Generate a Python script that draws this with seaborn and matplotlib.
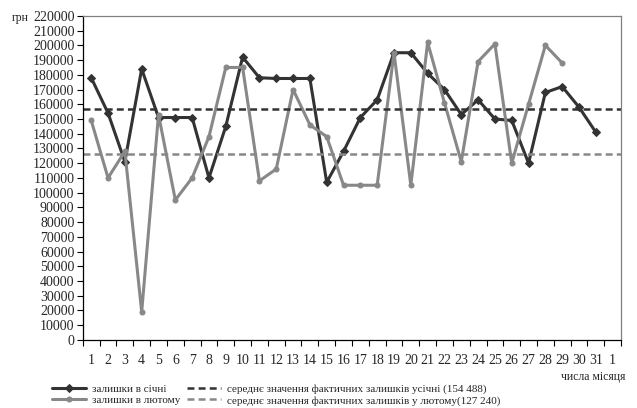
import numpy as np
import pandas as pd
import matplotlib
matplotlib.use("Agg")
import matplotlib.pyplot as plt
import seaborn as sns

# day labels on the x axis (last "1" is the first day of the next month)
day_labels = [str(d) for d in range(1, 32)] + ["1"]

# balances in January (31 days)
jan_values = [178000, 154000, 121000, 184000, 151000, 151000, 151000, 110000,
              145000, 192000, 178000, 177500, 177500, 177500, 107000, 128000,
              151000, 163000, 195000, 195000, 181000, 170000, 153000, 163000,
              150000, 149000, 120000, 168000, 172000, 158000, 141000]

# balances in February (29 days)
feb_values = [149000, 110000, 128000, 19000, 153000, 95000, 110000, 138000,
              185000, 185000, 108000, 116000, 170000, 146000, 138000, 105000,
              105000, 105000, 195000, 105000, 202000, 161000, 121000, 189000,
              201000, 120000, 160000, 200000, 188000]

# average levels as drawn on the chart
jan_mean = 156500
feb_mean = 126500

series_labels = ["залишки в січні", "залишки в лютому",
                 "середнє значення фактичних залишків усічні (154 488)",
                 "середнє значення фактичних залишків у лютому(127 240)"]

dark = "#333333"
grey = "#888888"

sns.set_style("white")
plt.rcParams["font.family"] = ["Liberation Serif", "DejaVu Serif"]
plt.rcParams["lines.scale_dashes"] = False

jan_df = pd.DataFrame({"day": np.arange(len(jan_values)), "value": jan_values})
feb_df = pd.DataFrame({"day": np.arange(len(feb_values)), "value": feb_values})

fig = plt.figure(figsize=(6.37, 4.08), dpi=100)
ax = fig.add_axes([0.130, 0.167, 0.845, 0.794])

sns.lineplot(data=jan_df, x="day", y="value", ax=ax, color=dark, lw=2.2,
             marker="D", markersize=4.2, markeredgecolor=dark, label=series_labels[0])
sns.lineplot(data=feb_df, x="day", y="value", ax=ax, color=grey, lw=2.2,
             marker="o", markersize=3.6, markeredgecolor=grey, label=series_labels[1])
ax.axhline(jan_mean, color=dark, lw=1.8, ls=(0, (5, 3)), label=series_labels[2])
ax.axhline(feb_mean, color=grey, lw=1.8, ls=(0, (5, 3)), label=series_labels[3])

ax.set_xlim(-0.5, len(day_labels) - 0.5)
ax.set_ylim(0, 220000)
ax.set_yticks(np.arange(0, 220001, 10000))
ax.set_yticklabels([str(v) for v in range(0, 220001, 10000)], fontsize=10)

# tick marks between categories, labels at category centres
ax.set_xticks(np.arange(-0.5, len(day_labels)), minor=False)
ax.set_xticklabels([])
ax.set_xticks(np.arange(len(day_labels)), minor=True)
ax.set_xticklabels(day_labels, minor=True, fontsize=10)
ax.tick_params(axis="x", which="major", direction="out", length=4, width=0.8, color="black", bottom=True)
ax.tick_params(axis="x", which="minor", length=0, pad=10)
ax.tick_params(axis="y", direction="out", length=4, width=0.8, color="black", left=True, pad=2)

ax.set_xlabel("")
ax.set_ylabel("")
for side in ["left", "bottom"]:
    ax.spines[side].set_color("black")
    ax.spines[side].set_linewidth(0.9)
for side in ["top", "right"]:
    ax.spines[side].set_color("#808080")
    ax.spines[side].set_linewidth(0.9)

ax.legend_.remove()
handles, labels = ax.get_legend_handles_labels()
fig.legend(handles, labels, ncol=2, loc="upper left", bbox_to_anchor=(0.082, 0.058),
           frameon=False, fontsize=8, handlelength=3.0, handletextpad=0.6,
           columnspacing=0.6, labelspacing=0.1, borderaxespad=0, borderpad=0)

fig.text(0.018, 0.955, "грн", fontsize=8.5, va="center", ha="left")
fig.text(0.982, 0.076, "числа місяця", fontsize=8.5, va="center", ha="right")

fig.savefig("out.png", dpi=100)
